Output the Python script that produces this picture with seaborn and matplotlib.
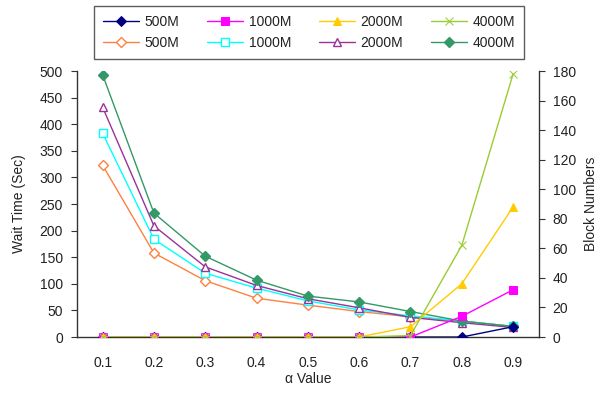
import numpy as np
import pandas as pd
import seaborn as sns
import matplotlib.pyplot as plt
from matplotlib.ticker import FixedLocator

alpha = ["0.1", "0.2", "0.3", "0.4", "0.5", "0.6", "0.7", "0.8", "0.9"]
sizes = ["500M", "1000M", "2000M", "4000M"]

# Block numbers (right axis)
blocks_500 = [0, 0, 0, 0, 0, 0, 0, 0, 7]
blocks_1000 = [0, 0, 0, 0, 0, 0, 0, 14, 32]
blocks_2000 = [0, 0, 0, 0, 0, 0, 7, 36, 88]
blocks_4000 = [0, 0, 0, 0, 0, 0, 1, 62, 178]

# Wait time (left axis)
wait_500 = [323, 158, 106, 73, 60, 48, 38, 30, 20]
wait_1000 = [383, 184, 120, 92, 68, 51, 40, 30, 20]
wait_2000 = [432, 209, 132, 97, 72, 55, 37, 27, 18]
wait_4000 = [493, 233, 152, 107, 77, 66, 48, 30, 20]

sns.set_style("white")
plt.rcParams["font.family"] = ["Liberation Sans", "DejaVu Sans"]
plt.rcParams["font.size"] = 10
plt.rcParams["text.color"] = "#222222"
plt.rcParams["axes.labelcolor"] = "#222222"
plt.rcParams["xtick.color"] = "#222222"
plt.rcParams["ytick.color"] = "#222222"

fig = plt.figure(figsize=(6.06, 3.97), dpi=100)
ax = fig.add_axes([0.127, 0.151, 0.762, 0.670])
ax2 = ax.twinx()
x = np.arange(len(alpha))

wait_series = [
    (wait_500, "#FF8040", "D", "none"),
    (wait_1000, "#00FFFF", "s", "none"),
    (wait_2000, "#993399", "^", "none"),
    (wait_4000, "#339966", "D", "full"),
]
block_series = [
    (blocks_500, "#000080", "D", "full"),
    (blocks_1000, "#FF00FF", "s", "full"),
    (blocks_2000, "#FFCC00", "^", "full"),
    (blocks_4000, "#99CC33", "x", "full"),
]

wait_handles, block_handles = [], []
for vals, c, m, fill in wait_series:
    mfc = c if fill == "full" else "white"
    sns.lineplot(x=x, y=vals, ax=ax, color=c, marker=m, markersize=6 if m != "D" else 5,
                 markeredgecolor=c, markerfacecolor=mfc, markeredgewidth=1, linewidth=1)
    wait_handles.append(ax.lines[-1])
for vals, c, m, fill in block_series:
    sns.lineplot(x=x, y=vals, ax=ax2, color=c, marker=m, markersize=6 if m != "D" else 5,
                 markeredgecolor=c, markerfacecolor=c, linewidth=1)
    block_handles.append(ax2.lines[-1])

ax.set_xlim(-0.5, len(alpha) - 0.5)
ax.set_ylim(0, 500)
ax2.set_ylim(0, 180)
ax.set_yticks(range(0, 501, 50))
ax2.set_yticks(range(0, 181, 20))
ax.set_xticks(x)
ax.set_xticklabels(alpha)
ax.xaxis.set_minor_locator(FixedLocator(np.arange(0.5, len(alpha) - 1, 1)))
ax.tick_params(axis="x", which="major", length=0, pad=14)
ax.tick_params(axis="x", which="minor", direction="in", length=4, color="#333333")
ax.tick_params(axis="y", direction="out", length=4, color="#333333", pad=6)
ax2.tick_params(axis="y", direction="out", length=4, color="#333333", pad=6)

for a in (ax, ax2):
    for side in ("left", "right", "bottom"):
        a.spines[side].set_color("#333333")
        a.spines[side].set_linewidth(1)
    a.spines["top"].set_visible(False)
ax.spines["right"].set_visible(False)
ax2.spines["left"].set_visible(False)
ax2.spines["bottom"].set_visible(False)

ax.set_xlabel("α Value", labelpad=1)
ax.set_ylabel("Wait Time (Sec)", labelpad=10)
ax2.set_ylabel("Block Numbers", labelpad=6)

handles, labels = [], []
for i, s in enumerate(sizes):
    handles += [block_handles[i], wait_handles[i]]
    labels += [s, s]
leg = fig.legend(handles, labels, ncol=4, loc="center",
                 bbox_to_anchor=(0.51, 0.918), frameon=True, fancybox=False,
                 edgecolor="#333333", handlelength=2.6, columnspacing=2.0,
                 handletextpad=0.4, labelspacing=0.5, borderpad=0.65)
leg.get_frame().set_linewidth(1)

fig.savefig("out.png", dpi=100)
